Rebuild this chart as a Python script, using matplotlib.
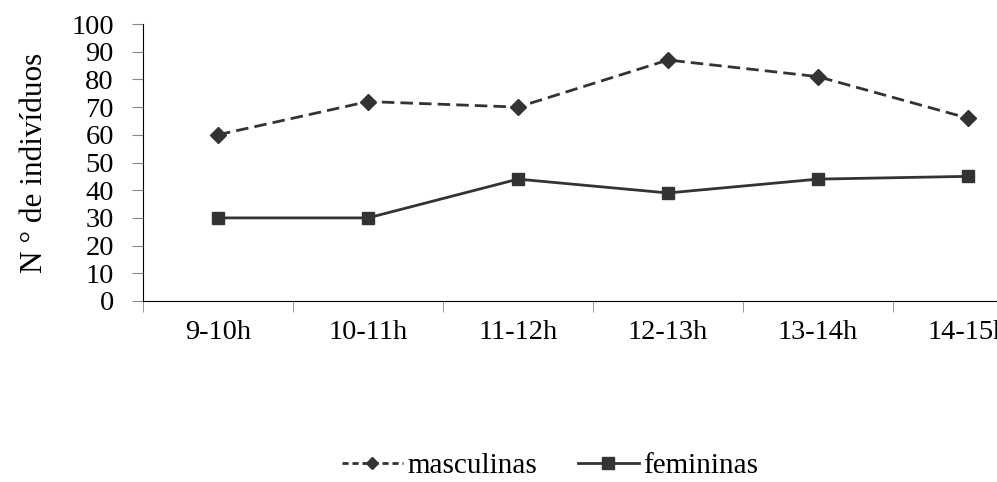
import numpy as np
import matplotlib.pyplot as plt
from matplotlib.lines import Line2D

plt.rcParams['font.family'] = ['Liberation Serif', 'DejaVu Serif']

horas = ['9-10h', '10-11h', '11-12h', '12-13h', '13-14h', '14-15h']
masculinas = [60, 72, 70, 87, 81, 66]
femininas = [30, 30, 44, 39, 44, 45]

cor = '#333333'

fig = plt.figure(figsize=(9.97, 4.82), dpi=100)
# axes runs past the right edge, as in the original
ax = fig.add_axes([143/997, 1 - 301/482, 900/997, 277/482])

x = np.arange(len(horas))
ax.plot(x, masculinas, color=cor, lw=2, ls=(0, (4.5, 2.2)), marker='D', ms=8)
ax.plot(x, femininas, color=cor, lw=2, ls='-', marker='s', ms=9)

ax.set_xlim(-0.5, len(horas) - 0.5)
ax.set_ylim(0, 100)
ax.set_yticks(range(0, 101, 10))
ax.set_xticks(x)
ax.set_xticklabels(horas)
ax.set_xticks(np.arange(-0.5, len(horas), 1), minor=True)
ax.tick_params(axis='x', which='major', length=0, pad=14, labelsize=20.5)
ax.tick_params(axis='x', which='minor', length=8, color='#888888', direction='out')
ax.tick_params(axis='y', length=8, color='#888888', pad=13, labelsize=20.5)

for s in ['top', 'right']:
    ax.spines[s].set_visible(False)

ax.set_ylabel('N ° de indivíduos', fontsize=22.5, labelpad=16)

# legend handles with the shorter dashes seen in the original key
h1 = Line2D([], [], color=cor, lw=2, ls=(0, (2.2, 1.4)), marker='D', ms=6)
h2 = Line2D([], [], color=cor, lw=2, ls='-', marker='s', ms=8)
fig.legend([h1, h2], ['masculinas', 'femininas'], loc='center',
           bbox_to_anchor=(550/997, 1 - 466/482), ncol=2, frameon=False,
           fontsize=21, handlelength=2.1, handletextpad=0.15,
           columnspacing=1.4)

fig.savefig('out.png', dpi=100)
